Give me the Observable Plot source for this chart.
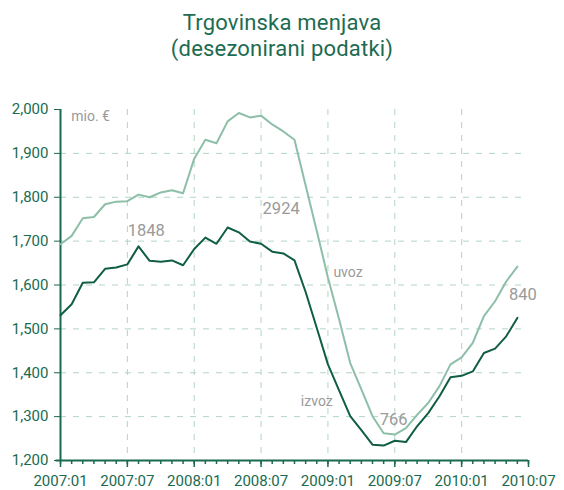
<!DOCTYPE html>
<html>
<head>
<meta charset="utf-8">
<script src="https://cdn.jsdelivr.net/npm/d3@7"></script>
<script src="https://cdn.jsdelivr.net/npm/@observablehq/plot@0.6"></script>
<style>
  html, body { margin: 0; padding: 0; background: #fff; }
  #title { height: 70px; width: 564px; text-align: center; color: #1d6b51;
           font-family: Roboto, "Liberation Sans", sans-serif;
           font-size: 22px; line-height: 26px; padding-top: 10px; box-sizing: border-box; letter-spacing: 0.2px; }
  #chart svg { display: block; }
</style>
</head>
<body>
<div id="title">Trgovinska menjava<br>(desezonirani podatki)</div>
<div id="chart"></div>
<script>
// Months from 2007:01 to 2010:06 (index 0..41)
const startYear = 2007;
const izvoz = [1531,1556,1605,1606,1637,1640,1647,1688,1655,1653,1656,1645,
               1682,1708,1694,1731,1720,1699,1694,1676,1672,1656,1584,1502,
               1419,1360,1301,1269,1236,1234,1245,1242,1278,1308,1346,1390,
               1393,1403,1445,1455,1483,1525];
const uvoz  = [1693,1712,1752,1755,1784,1790,1791,1806,1800,1811,1816,1809,
               1888,1931,1923,1973,1992,1982,1986,1966,1950,1931,1827,1723,
               1617,1522,1422,1362,1301,1262,1259,1274,1304,1331,1369,1419,
               1435,1468,1529,1563,1608,1642];
const yTicks = [1200,1300,1400,1500,1600,1700,1800,1900,2000];
const xMajor = [0,6,12,18,24,30,36,42]; // month indexes of labelled ticks
const xMinor = d3.range(0, 43);
const numberLabels = [
  {t: "1848", m: 7.7, v: 1723},
  {t: "2924", m: 19.8, v: 1775},
  {t: "766", m: 29.9, v: 1293},
  {t: "840", m: 41.5, v: 1577}
];
const seriesLabels = [
  {t: "uvoz", m: 25.8, v: 1628},
  {t: "izvoz", m: 23.0, v: 1335},
  {t: "mio. €", m: 2.7, v: 1984}
];

const monthLabel = i => `${startYear + Math.floor(i / 12)}:${String(i % 12 + 1).padStart(2, "0")}`;
const exp = izvoz.map((v, i) => ({m: i, v}));
const imp = uvoz.map((v, i) => ({m: i, v}));

const green = "#1a6a4f";
const dark = "#0f5e44";
const light = "#8dbfa8";
const grid = "#b3d4c7";
const gray = "#9a9a9a";
const font = "Roboto, 'Liberation Sans', sans-serif";
const fmt = d3.format(",d");

const chart = Plot.plot({
  width: 564,
  height: 420,
  marginTop: 39,
  marginBottom: 30,
  marginLeft: 60,
  marginRight: 36,
  style: {fontFamily: font, background: "#fff", overflow: "visible"},
  x: {type: "linear", domain: [0, 42]},
  y: {domain: [1200, 2000]},
  marks: [
    Plot.gridY(yTicks.filter(d => d > 1200 && d < 2000), {stroke: grid, strokeOpacity: 1, strokeDasharray: "6,7", strokeWidth: 1}),
    Plot.gridX(xMajor.filter(d => d > 0 && d < 42), {stroke: grid, strokeOpacity: 1, strokeDasharray: "6,7", strokeWidth: 1}),
    Plot.axisY(yTicks, {tickSize: 6, tickPadding: 6, tickFormat: fmt, stroke: green, fill: green, fontSize: 15, label: null}),
    Plot.axisX(xMinor, {tickSize: 4, tickFormat: () => "", stroke: green, label: null, strokeWidth: 1.5}),
    Plot.axisX(xMajor, {tickSize: 7, tickPadding: 8, tickFormat: monthLabel, stroke: green, fill: green, fontSize: 15, label: null, strokeWidth: 1.5}),
    Plot.ruleX([0], {y1: 1200, y2: 2000, stroke: green, strokeWidth: 2}),
    Plot.ruleY([1200], {x1: -0.4, x2: 42, stroke: green, strokeWidth: 2}),
    Plot.line(imp, {x: "m", y: "v", stroke: light, strokeWidth: 2}),
    Plot.line(exp, {x: "m", y: "v", stroke: dark, strokeWidth: 2}),
    Plot.text(numberLabels, {x: "m", y: "v", text: "t", fill: gray, fontSize: 16.5}),
    Plot.text(seriesLabels, {x: "m", y: "v", text: "t", fill: gray, fontSize: 14})
  ]
});
document.getElementById("chart").appendChild(chart);
</script>
</body>
</html>
